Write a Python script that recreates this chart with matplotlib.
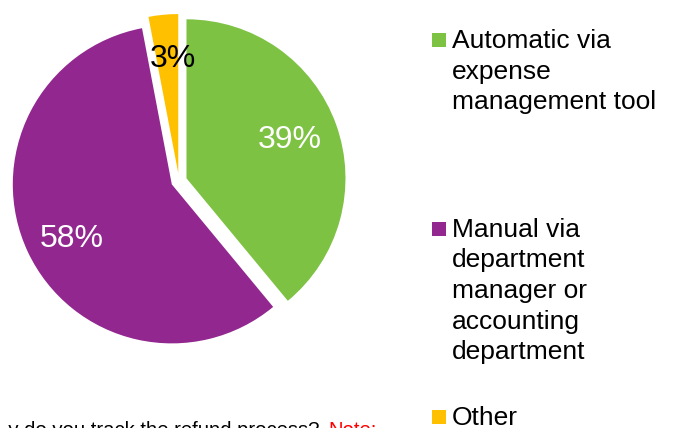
import matplotlib
matplotlib.use('Agg')
import matplotlib.pyplot as plt
from matplotlib.patches import Rectangle
from matplotlib.transforms import Bbox, TransformedBbox

LABELS = ['Automatic via\nexpense\nmanagement tool',
          'Manual via\ndepartment\nmanager or\naccounting\ndepartment',
          'Other']
SHARES = [39, 58, 3]
COLORS = ['#7DC243', '#92278F', '#FFC000']
PCT_COLORS = ['white', 'white', 'black']

QUESTION = 'Why do you track the refund process?'
NOTE = 'Note:'

plt.rcParams['font.family'] = ['Liberation Sans', 'DejaVu Sans']

W, H = 673, 428
fig = plt.figure(figsize=(W / 100, H / 100), dpi=100)

# pie axes: centre at (179, 181) px, radius 159 px
cx, cy, r_px = 179, 181, 159
lim = 1.12
half = lim * r_px
ax = fig.add_axes([(cx - half) / W, (H - cy - half) / H, 2 * half / W, 2 * half / H])
wedges, texts, pcts = ax.pie(SHARES, colors=COLORS, startangle=90, counterclock=False,
                             explode=[0.05, 0.05, 0.05], radius=1,
                             autopct='%d%%', pctdistance=0.72,
                             textprops={'fontsize': 23})
# small nudges of the percentage labels, in pixels (dx right, dy up)
nudges = [(-4, 0), (4, -6), (5, 0)]
for t, c, (dx, dy) in zip(pcts, PCT_COLORS, nudges):
    t.set_color(c)
    x, y = t.get_position()
    t.set_position((x + dx / r_px, y + dy / r_px))
ax.set_xlim(-lim, lim)
ax.set_ylim(-lim, lim)
ax.set_aspect('equal')
ax.axis('off')

# legend: square beside the first line of each wrapped label
first_baselines = [48, 237, 425]
line_step = 30.5
for label, color, base in zip(LABELS, COLORS, first_baselines):
    fig.patches.append(Rectangle((432 / W, (H - base + 1.5) / H), 14 / W, 14 / H,
                                 transform=fig.transFigure, facecolor=color,
                                 edgecolor='none'))
    for i, line in enumerate(label.split('\n')):
        fig.text(452 / W, (H - base - i * line_step) / H, line, fontsize=19,
                 ha='left', va='baseline', color='black')

# question text along the bottom edge, clipped by its text box on the left
clip = TransformedBbox(Bbox([[8 / W, -0.2], [1.0, 1.0]]), fig.transFigure)
q = fig.text(320 / W, (H - 436) / H, QUESTION, fontsize=14.6, ha='right', va='baseline',
             color='black')
q.set_clip_box(clip)
q.set_clip_on(True)
fig.text(328 / W, (H - 436) / H, NOTE, fontsize=14.6, ha='left', va='baseline',
         color='red')

fig.savefig('out.png', dpi=100)
plt.close(fig)
